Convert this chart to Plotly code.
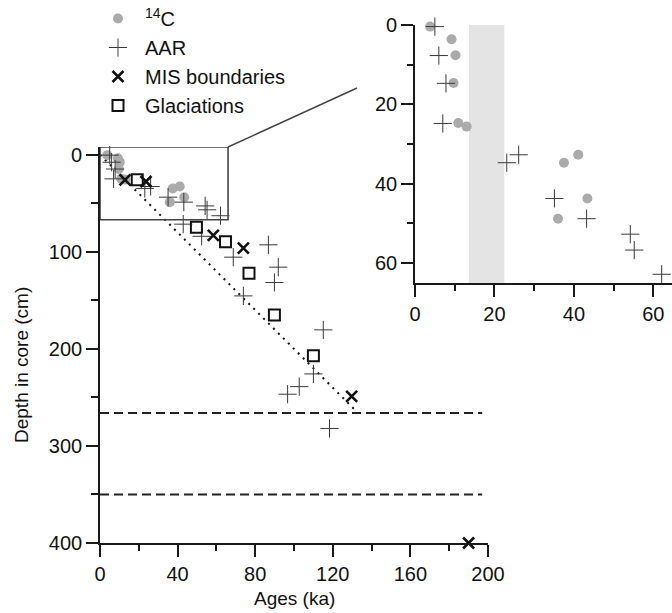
import plotly.graph_objects as go

# ---------------- data ----------------
c14_ages = [3.8, 9.2, 10.2, 9.7, 10.9, 13.0, 41.1, 37.5, 43.4, 36.0]
c14_depths = [0.4, 3.6, 7.6, 14.6, 24.7, 25.6, 32.7, 34.7, 43.7, 48.8]

aar_ages = [5.0, 6.0, 7.8, 7.0, 23.1, 26.1, 35.1, 43.2, 54.2, 55.2, 62.1,
            42.9, 52.4, 68.7, 86.8, 91.9, 89.9, 73.9, 115.1, 110.0, 102.7, 96.7, 118.3]
aar_depths = [0.4, 7.7, 14.7, 24.8, 34.7, 32.7, 43.7, 48.8, 52.7, 56.7, 62.8,
              71.5, 84.0, 105.5, 92.8, 115.8, 131.6, 145.4, 180.4, 225.8, 238.9, 246.7, 282.0]

mis_ages = [12.9, 23.7, 58.4, 73.9, 129.7, 190.0]
mis_depths = [25.8, 27.5, 83.0, 96.2, 249.0, 400.0]

glac_ages = [19.2, 49.7, 64.7, 76.8, 89.9, 110.0]
glac_depths = [25.8, 74.8, 89.7, 122.0, 165.0, 207.2]

model_ages = [0, 131]
model_depths = [0, 262]

boundary_depths = [266, 350]
boundary_age_span = [0, 197]

zoom_box_ages = [0, 66]
zoom_box_depths = [-8, 67]
gap_band_ages = [13.6, 22.5]

main_x_ticks = [0, 40, 80, 120, 160, 200]
main_y_ticks = [0, 100, 200, 300, 400]
inset_ticks = [0, 20, 40, 60]

# ---------------- layout helpers ----------------
W, H = 672, 613
FONT = "Liberation Sans, Arial, Helvetica, sans-serif"
AX = "#1a1a1a"

def px_x(p):
    return p / W

def px_y(p):
    return 1 - p / H

main_dom_x = [px_x(100), px_x(488)]
main_dom_y = [px_y(543), px_y(147)]
ins_dom_x = [px_x(415), 1.0]
ins_dom_y = [px_y(283), px_y(25)]

fig = go.Figure()

gray = "#ababab"
plus_col = "#3a3a3a"

# main traces
fig.add_trace(go.Scatter(x=model_ages, y=model_depths, mode="lines",
                         line=dict(color="#111", width=2, dash="2px,5px"),
                         showlegend=False, hoverinfo="skip"))
for d in boundary_depths:
    fig.add_trace(go.Scatter(x=boundary_age_span, y=[d, d], mode="lines",
                             line=dict(color="#222", width=2, dash="9px,5px"),
                             showlegend=False, hoverinfo="skip"))

fig.add_trace(go.Scatter(x=c14_ages, y=c14_depths, mode="markers", name="<sup>14</sup>C",
                         marker=dict(symbol="circle", size=10, color=gray),
                         legendgroup="a", cliponaxis=False))
fig.add_trace(go.Scatter(x=aar_ages, y=aar_depths, mode="markers", name="AAR",
                         marker=dict(symbol="cross-thin", size=13,
                                     line=dict(color=plus_col, width=1.0)),
                         legendgroup="b", cliponaxis=False))
fig.add_trace(go.Scatter(x=mis_ages, y=mis_depths, mode="markers", name="MIS boundaries",
                         marker=dict(symbol="x-thin", size=11,
                                     line=dict(color="#111", width=2.6)),
                         legendgroup="c", cliponaxis=False))
fig.add_trace(go.Scatter(x=glac_ages, y=glac_depths, mode="markers", name="Glaciations",
                         marker=dict(symbol="square-open", size=11, color="#111",
                                     line=dict(color="#111", width=2)),
                         legendgroup="d", cliponaxis=False))

# inset traces (same data, restricted to the zoomed window)
ins_c14 = [(a, d) for a, d in zip(c14_ages, c14_depths) if a <= 65 and d <= 65]
ins_aar = [(a, d) for a, d in zip(aar_ages, aar_depths) if a <= 65 and d <= 65]
fig.add_trace(go.Scatter(x=[p[0] for p in ins_c14], y=[p[1] for p in ins_c14],
                         mode="markers", xaxis="x2", yaxis="y2", showlegend=False,
                         marker=dict(symbol="circle", size=10, color=gray), cliponaxis=False))
fig.add_trace(go.Scatter(x=[p[0] for p in ins_aar], y=[p[1] for p in ins_aar],
                         mode="markers", xaxis="x2", yaxis="y2", showlegend=False,
                         marker=dict(symbol="cross-thin", size=13,
                                     line=dict(color=plus_col, width=1.0)), cliponaxis=False))

tickfont = dict(family=FONT, size=20, color="#111")

common_axis = dict(showline=True, linecolor=AX, linewidth=1.6, ticks="outside",
                   ticklen=12, tickwidth=1.5, tickcolor=AX, showgrid=False,
                   zeroline=False, tickfont=tickfont, mirror=False, automargin=False)

fig.update_layout(
    width=W, height=H,
    margin=dict(l=0, r=0, t=0, b=0, autoexpand=False),
    paper_bgcolor="white", plot_bgcolor="rgba(0,0,0,0)",
    font=dict(family=FONT, color="#111"),
    xaxis=dict(domain=main_dom_x, range=[0, 200], tickvals=main_x_ticks,
               minor=dict(dtick=20, ticklen=6, tickwidth=1.5, tickcolor=AX, ticks="outside"),
               anchor="y", **common_axis),
    yaxis=dict(domain=main_dom_y, range=[400, -8], tickvals=main_y_ticks,
               minor=dict(dtick=50, ticklen=7, tickwidth=1.5, tickcolor=AX, ticks="outside"),
               anchor="x", **common_axis),
    xaxis2=dict(domain=ins_dom_x, range=[0, 64.7], tickvals=inset_ticks,
                minor=dict(dtick=10, ticklen=6, tickwidth=1.5, tickcolor=AX, ticks="outside"),
                anchor="y2", **common_axis),
    yaxis2=dict(domain=ins_dom_y, range=[65, 0], tickvals=inset_ticks,
                minor=dict(dtick=10, ticklen=6, tickwidth=1.5, tickcolor=AX, ticks="outside"),
                anchor="x2", **common_axis),
    legend=dict(x=px_x(91), y=px_y(-1), xanchor="left", yanchor="top",
                font=dict(family=FONT, size=20, color="#111"),
                itemwidth=44, traceorder="grouped", tracegroupgap=0,
                bgcolor="rgba(0,0,0,0)"),
    showlegend=True,
)

# zoom box, inset band and connector
fig.add_shape(type="rect", xref="x", yref="y", x0=zoom_box_ages[0], x1=zoom_box_ages[1],
              y0=zoom_box_depths[0], y1=zoom_box_depths[1],
              line=dict(color="#444", width=1.6), layer="above")
fig.add_shape(type="rect", xref="x2", yref="y2", x0=gap_band_ages[0], x1=gap_band_ages[1],
              y0=0, y1=65, fillcolor="#e4e4e4", line=dict(width=0), layer="below")
fig.add_shape(type="line", xref="paper", yref="paper",
              x0=px_x(228), y0=px_y(147), x1=px_x(357), y1=px_y(88),
              line=dict(color="#444", width=1.4))

fig.add_annotation(text="Ages (ka)", xref="paper", yref="paper",
                   x=px_x(294), y=px_y(598), xanchor="center", yanchor="middle",
                   showarrow=False, font=dict(family=FONT, size=19, color="#111"))
fig.add_annotation(text="Depth in core (cm)", xref="paper", yref="paper",
                   x=px_x(22), y=px_y(365), xanchor="center", yanchor="middle",
                   textangle=-90, showarrow=False,
                   font=dict(family=FONT, size=19, color="#111"))

fig.write_html("out.html")
